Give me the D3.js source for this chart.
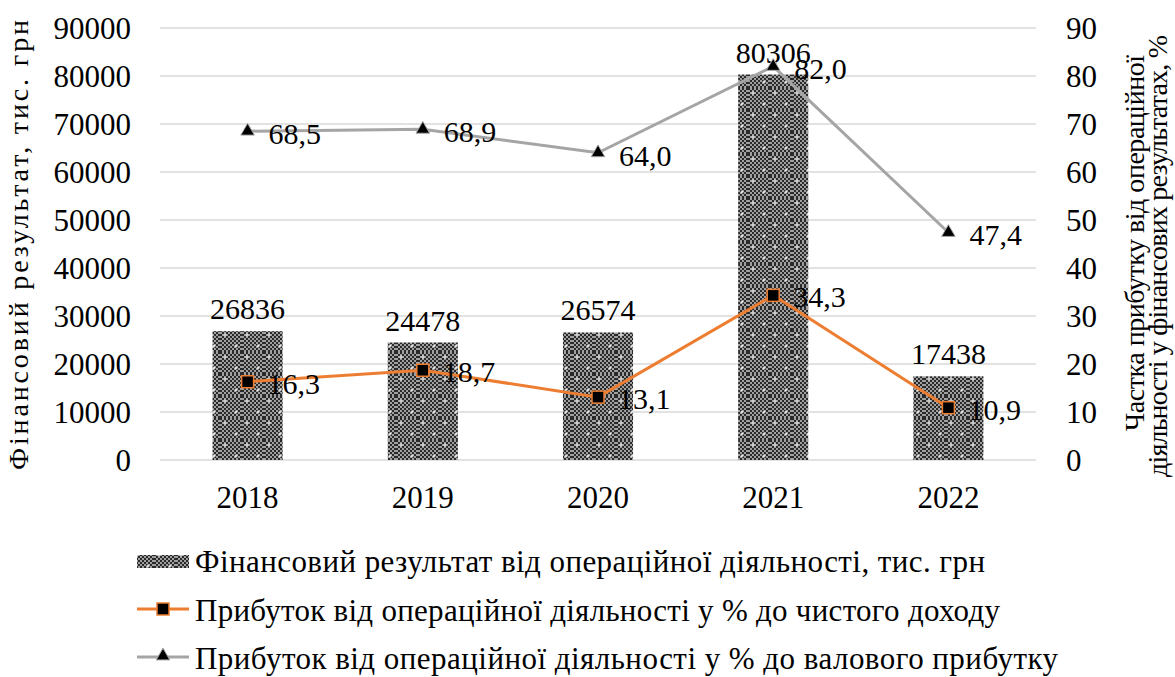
<!DOCTYPE html>
<html>
<head>
<meta charset="utf-8">
<script src="https://cdn.jsdelivr.net/npm/d3@7"></script>
</head>
<body style="margin:0">
<script>
// chart data
const years = ["2018", "2019", "2020", "2021", "2022"];
const finResult = [26836, 24478, 26574, 80306, 17438];
const pctIncome = [16.3, 18.7, 13.1, 34.3, 10.9];
const pctGross = [68.5, 68.9, 64.0, 82.0, 47.4];
const leftTicks = [0, 10000, 20000, 30000, 40000, 50000, 60000, 70000, 80000, 90000];
const rightTicks = [0, 10, 20, 30, 40, 50, 60, 70, 80, 90];
const legendLabels = [
  "Фінансовий результат  від операційної діяльності, тис. грн",
  "Прибуток від операційної діяльності у % до чистого доходу",
  "Прибуток від операційної діяльності у % до валового прибутку"
];

const width = 1175, height = 677;
const plot = { left: 160, right: 1036, top: 28, bottom: 460 };
const serif = "Liberation Serif";

const svg = d3.select("body").append("svg")
    .attr("width", width)
    .attr("height", height);

// bar fill pattern: dark checker with white dots
const defs = svg.append("defs");
const small = defs.append("pattern")
    .attr("id", "tiny")
    .attr("patternUnits", "userSpaceOnUse")
    .attr("width", 4).attr("height", 4);
small.append("rect").attr("width", 4).attr("height", 4).attr("fill", "#a0a0a0");
small.append("rect").attr("width", 2).attr("height", 2).attr("fill", "#2a2a2a");
small.append("rect").attr("x", 2).attr("y", 2).attr("width", 2).attr("height", 2).attr("fill", "#2a2a2a");
const pat = defs.append("pattern")
    .attr("id", "checker")
    .attr("patternUnits", "userSpaceOnUse")
    .attr("width", 22).attr("height", 22);
pat.append("rect").attr("width", 22).attr("height", 22).attr("fill", "url(#tiny)");
[[5, 5], [16, 16]].forEach(([cx, cy]) => {
  pat.append("rect").attr("x", cx - 1.5).attr("y", cy - 0.5).attr("width", 3).attr("height", 1).attr("fill", "#fff");
  pat.append("rect").attr("x", cx - 0.5).attr("y", cy - 1.5).attr("width", 1).attr("height", 3).attr("fill", "#fff");
});

const x = d3.scaleBand().domain(years).range([plot.left, plot.right]).paddingInner(0.6).paddingOuter(0.3);
const xc = d => x(d) + x.bandwidth() / 2;
const yL = d3.scaleLinear().domain([0, 90000]).range([plot.bottom, plot.top]);
const yR = d3.scaleLinear().domain([0, 90]).range([plot.bottom, plot.top]);

// gridlines
svg.append("g")
  .selectAll("line")
  .data(leftTicks)
  .join("line")
    .attr("x1", plot.left).attr("x2", plot.right)
    .attr("y1", d => yL(d)).attr("y2", d => yL(d))
    .attr("stroke", "#d9d9d9").attr("stroke-width", 1.3);

// left axis labels
svg.append("g")
  .selectAll("text")
  .data(leftTicks)
  .join("text")
    .attr("font-family", serif)
    .attr("x", 131).attr("y", d => yL(d) + 11)
    .attr("text-anchor", "end")
    .attr("font-size", 31)
    .text(d => d);

// right axis labels
svg.append("g")
  .selectAll("text")
  .data(rightTicks)
  .join("text")
    .attr("font-family", serif)
    .attr("x", 1066).attr("y", d => yR(d) + 11)
    .attr("font-size", 31)
    .text(d => d);

// x labels
svg.append("g")
  .selectAll("text")
  .data(years)
  .join("text")
    .attr("font-family", serif)
    .attr("x", d => xc(d)).attr("y", 508)
    .attr("text-anchor", "middle")
    .attr("font-size", 31)
    .text(d => d);

// axis titles
svg.append("text")
    .attr("font-family", serif)
    .attr("transform", "translate(28,245) rotate(-90)")
    .attr("text-anchor", "middle")
    .attr("font-size", 28)
    .attr("textLength", 450)
    .text("Фінансовий результат, тис. грн");
svg.append("text")
    .attr("font-family", serif)
    .attr("transform", "translate(1144,243) rotate(-90)")
    .attr("text-anchor", "middle")
    .attr("font-size", 28)
    .attr("textLength", 376)
    .text("Частка прибутку від операційної");
svg.append("text")
    .attr("font-family", serif)
    .attr("transform", "translate(1167,256) rotate(-90)")
    .attr("text-anchor", "middle")
    .attr("font-size", 28)
    .attr("textLength", 442)
    .text("діяльності  у фінансових результатах,  %");

// bars
svg.append("g")
  .selectAll("rect")
  .data(years)
  .join("rect")
    .attr("x", d => x(d))
    .attr("y", (d, i) => yL(finResult[i]))
    .attr("width", x.bandwidth())
    .attr("height", (d, i) => yL(0) - yL(finResult[i]))
    .attr("fill", "url(#checker)");

svg.append("g")
  .selectAll("text")
  .data(years)
  .join("text")
    .attr("font-family", serif)
    .attr("x", d => xc(d))
    .attr("y", (d, i) => yL(finResult[i]) - 12)
    .attr("text-anchor", "middle")
    .attr("font-size", 30)
    .text((d, i) => finResult[i]);

const line = d3.line().x(d => xc(d[0])).y(d => yR(d[1]));
const fmt = v => v.toFixed(1).replace(".", ",");

// gross profit line
const grossPts = years.map((d, i) => [d, pctGross[i]]);
svg.append("path").datum(grossPts)
    .attr("d", line).attr("fill", "none")
    .attr("stroke", "#a5a5a5").attr("stroke-width", 3);
const tri = d3.symbol().type(d3.symbolTriangle).size(80);
svg.append("g").selectAll("path").data(grossPts).join("path")
    .attr("d", tri)
    .attr("transform", d => `translate(${xc(d[0])},${yR(d[1])})`)
    .attr("fill", "#000").attr("stroke", "#a5a5a5").attr("stroke-width", 1);
svg.append("g").selectAll("text").data(grossPts).join("text")
    .attr("font-family", serif)
    .attr("x", d => xc(d[0]) + 21).attr("y", d => yR(d[1]) + 13)
    .attr("font-size", 30)
    .text(d => fmt(d[1]));

// net income line
const incPts = years.map((d, i) => [d, pctIncome[i]]);
svg.append("path").datum(incPts)
    .attr("d", line).attr("fill", "none")
    .attr("stroke", "#ed7d31").attr("stroke-width", 3);
svg.append("g").selectAll("rect").data(incPts).join("rect")
    .attr("x", d => xc(d[0]) - 6).attr("y", d => yR(d[1]) - 6)
    .attr("width", 12).attr("height", 12)
    .attr("fill", "#000").attr("stroke", "#ed7d31").attr("stroke-width", 1.5);
svg.append("g").selectAll("text").data(incPts).join("text")
    .attr("font-family", serif)
    .attr("x", d => xc(d[0]) + 20).attr("y", d => yR(d[1]) + 12)
    .attr("font-size", 30)
    .text(d => fmt(d[1]));

// legend
const lg = svg.append("g");
const rows = [572, 621, 669];
const ends = [985, 1000, 1058];
lg.append("rect").attr("x", 137).attr("y", rows[0] - 17).attr("width", 52).attr("height", 13)
    .attr("fill", "url(#checker)");
lg.append("line").attr("x1", 137).attr("x2", 189).attr("y1", rows[1] - 12).attr("y2", rows[1] - 12)
    .attr("stroke", "#ed7d31").attr("stroke-width", 3);
lg.append("rect").attr("x", 157).attr("y", rows[1] - 18).attr("width", 12).attr("height", 12)
    .attr("fill", "#000").attr("stroke", "#ed7d31").attr("stroke-width", 1.5);
lg.append("line").attr("x1", 137).attr("x2", 189).attr("y1", rows[2] - 12).attr("y2", rows[2] - 12)
    .attr("stroke", "#a5a5a5").attr("stroke-width", 3);
lg.append("path").attr("d", tri)
    .attr("transform", `translate(163,${rows[2] - 13})`)
    .attr("fill", "#000").attr("stroke", "#a5a5a5");
lg.selectAll("text").data(legendLabels).join("text")
    .attr("font-family", serif)
    .attr("x", 195).attr("y", (d, i) => rows[i])
    .attr("font-size", 31)
    .attr("textLength", (d, i) => ends[i] - 195)
    .text(d => d);
</script>
</body>
</html>
